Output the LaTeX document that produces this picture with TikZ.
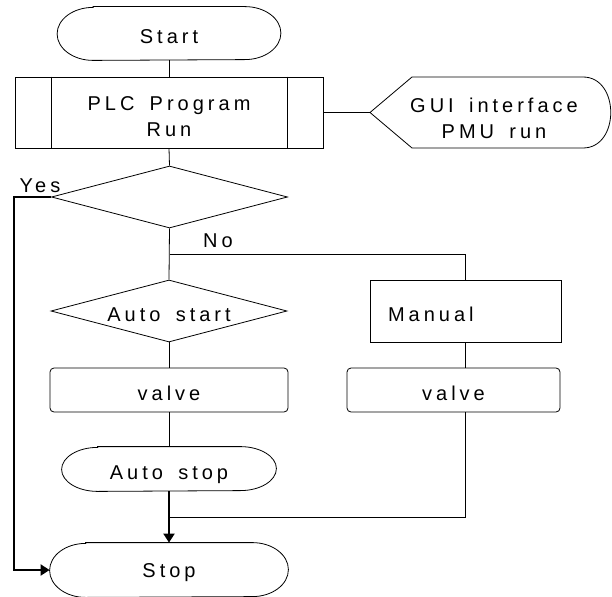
\documentclass[tikz,border=0pt]{standalone}
\usepackage{fontspec}
\setmainfont[LetterSpace=20, WordSpace=1.6]{Liberation Sans}
\usepackage{tikz}
\usetikzlibrary{
  arrows.meta,      % Triangle 箭头
  shapes.geometric  % 菱形判断框
}

% 椭圆端头的起止框：节点名, 半高
\newcommand{\termline}[2]{%
  \draw ([xshift=36pt]#1.north west) -- ([xshift=-36pt]#1.north east)
    arc[start angle=90, end angle=-90, x radius=36pt, y radius=#2]
    -- ([xshift=36pt]#1.south west)
    arc[start angle=270, end angle=90, x radius=36pt, y radius=#2] -- cycle;}

\begin{document}
\begin{tikzpicture}[x=1pt, y=-1pt, line width=0.8pt,
    >={Triangle[length=9pt, width=11pt]},
    font=\fontsize{20}{26}\selectfont,
    every node/.append style={text height=20pt, text depth=0pt},
    multi/.style={align=center, text height=, text depth=},
    term/.style={inner sep=0pt},
    box/.style={draw, rectangle, inner sep=0pt},
    rbox/.style={draw, rectangle, rounded corners=4pt, inner sep=0pt, minimum height=44pt},
    decide/.style={draw, diamond, aspect=3.8, inner sep=0pt, minimum width=236pt, minimum height=62pt},
    flow/.style={line width=2pt}]
    \useasboundingbox (0,0) rectangle (612,596);

    % 开始
    \node[term, minimum width=223pt, minimum height=53pt] (start) at (169,33.5) {Start};
    \termline{start}{26.5pt}

    % PLC 程序（预定义过程）
    \node[box, minimum width=308pt, minimum height=71pt,
      label={[multi, yshift=-4pt]center:PLC Program\\Run}] (plc) at (169,112.5) {};
    \draw ([xshift=37pt]plc.north west) -- ([xshift=37pt]plc.south west);
    \draw ([xshift=-36pt]plc.north east) -- ([xshift=-36pt]plc.south east);

    % GUI 显示框
    \coordinate (guitip) at (370,112.5);
    \draw (guitip) -- (412,77) -- (583,77) .. controls (620,77) and (620,148) .. (583,148)
      -- (412,148) -- cycle;
    \node[multi] (gui) at (494,118) {GUI interface\\PMU run};
    \draw (plc.east) -- (guitip);

    % 判断
    \node[decide] (dec) at (169.5,197) {};
    \node (yes) at (40,182) {Yes};
    \node (no) at (218,237) {No};

    % 左列
    \node[decide] (autostart) at (169,311) {Auto start};
    \node[rbox, minimum width=238pt] (vl) at (169,390) {valve};
    \node[term, minimum width=214pt, minimum height=44pt] (autostop) at (169,469) {Auto stop};
    \termline{autostop}{22pt}

    % 右列
    \node[box, minimum width=191pt, minimum height=62pt, text width=155pt, inner xsep=18pt, align=left] (manual) at (465.5,311) {Manual};
    \node[rbox, minimum width=213pt] (vr) at (453.5,390) {valve};

    % 结束
    \node[term, minimum width=238pt, minimum height=54pt, text height=15pt] (stop) at (169,570) {Stop};
    \termline{stop}{27pt}

    % 连线
    \draw (start.south) -- (plc.north);
    \draw (plc.south) -- (dec.north);
    \coordinate (nobend) at (465.5,254);
    \draw (dec.south) -- (autostart.north);
    \draw (dec.south |- nobend) -- (nobend) -- (manual.north);
    \draw (autostart.south) -- (vl.north);
    \draw (vl.south) -- (autostop.north);
    \draw (manual.south) -- (manual.south |- vr.north);
    \coordinate (mergebend) at (465.5,517);
    \draw (manual.south |- vr.south) -- (mergebend) -- (mergebend -| autostop.south);
    \draw[flow, ->] (autostop.south) -- (stop.north);
    \coordinate (yesbend) at (14,197);
    \draw[flow, ->] (dec.west) -- (yesbend) |- (stop.west);
  \end{tikzpicture}
\end{document}
